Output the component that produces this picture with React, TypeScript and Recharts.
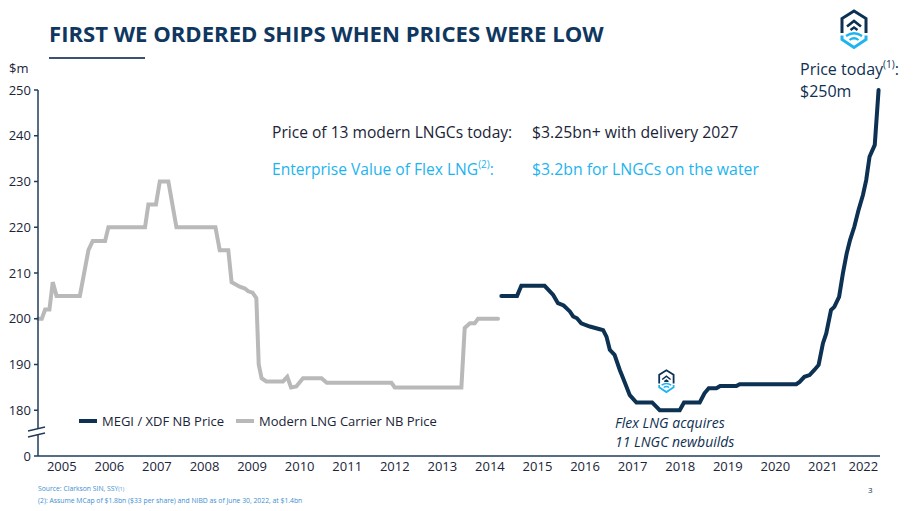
import { LineChart, Line, XAxis, YAxis } from "recharts";

const NAVY = "#0c3152";
const GRAY = "#b9b9b9";
const CYAN = "#1db4ef";
const INK = "#1b2438";
const AXIS = "#1f3b5c";

// Modern LNG Carrier NB Price ($m), x = decimal year
const modernYears = [
  2005.0, 2005.08, 2005.15, 2005.24, 2005.31, 2005.39, 2005.88, 2006.06, 2006.15, 2006.41,
  2006.48, 2007.25, 2007.32, 2007.48, 2007.56, 2007.74, 2007.91, 2008.73, 2008.82, 2009.0,
  2009.07, 2009.14, 2009.24, 2009.35, 2009.42, 2009.51, 2009.59, 2009.64, 2009.7, 2009.8,
  2010.15, 2010.24, 2010.32, 2010.43, 2010.57, 2010.96, 2011.07, 2012.43, 2012.5, 2013.9,
  2013.97, 2014.08, 2014.18, 2014.25, 2014.67,
];
const modernPrices = [
  200, 200, 202, 202, 208, 205, 205, 215, 217, 217,
  220, 220, 225, 225, 230, 230, 220, 220, 215, 215,
  208, 207.6, 207, 206.6, 206, 205.7, 204.5, 190, 187, 186.3,
  186.3, 187.3, 185, 185.2, 187, 187, 186, 186, 185, 185,
  198, 199, 199, 200, 200,
];

// MEGI / XDF NB Price ($m)
const megiYears = [
  2014.74, 2015.07, 2015.16, 2015.65, 2015.83, 2015.93, 2016.05, 2016.18, 2016.25, 2016.33,
  2016.42, 2016.6, 2016.81, 2016.88, 2016.95, 2017.02, 2017.12, 2017.23, 2017.3, 2017.44,
  2017.58, 2017.91, 2018.07, 2018.49, 2018.58, 2018.91, 2019.01, 2019.1, 2019.26, 2019.34,
  2019.68, 2019.75, 2020.94, 2021.01, 2021.11, 2021.22, 2021.32, 2021.41, 2021.5, 2021.57,
  2021.67, 2021.74, 2021.84, 2021.92, 2022.0, 2022.07, 2022.16, 2022.25, 2022.34, 2022.41,
  2022.48, 2022.59, 2022.67,
];
const megiPrices = [
  205, 205, 207.2, 207.2, 205.2, 203.4, 202.9, 201.6, 200.5, 200.1,
  199, 198.3, 197.7, 197.5, 196.1, 193.2, 192.1, 188.8, 187, 183.3,
  181.7, 181.7, 180, 180, 181.7, 181.7, 183.7, 184.8, 184.8, 185.3,
  185.3, 185.7, 185.7, 186.2, 187.3, 187.7, 188.8, 189.9, 194.6, 196.8,
  201.9, 202.6, 204.8, 209.9, 214.3, 217.2, 220.1, 223.8, 227, 230.3,
  235.4, 238, 250,
];

const yearLabels = [
  2005, 2006, 2007, 2008, 2009, 2010, 2011, 2012, 2013, 2014, 2015, 2016, 2017, 2018, 2019, 2020,
  2021, 2022,
];
const priceTicks = [170, 180, 190, 200, 210, 220, 230, 240, 250];
const X_START = 2005;
const X_END = 2022.7;

const modernData = modernYears.map((t, i) => ({ t, modern: modernPrices[i] }));
const megiData = megiYears.map((t, i) => ({ t, megi: megiPrices[i] }));
// year labels sit in the middle of each year (the last one in the middle of the partial year)
const yearTicks = yearLabels.map((y) => Math.min(y + 0.5, (y + X_END) / 2));

const legendItems = [
  { label: "MEGI / XDF NB Price", color: NAVY },
  { label: "Modern LNG Carrier NB Price", color: GRAY },
];

function ChartLegend() {
  return (
    <div
      style={{
        position: "absolute",
        left: 79,
        top: 412,
        display: "flex",
        alignItems: "center",
        fontSize: 13,
        lineHeight: "18px",
        color: INK,
      }}
    >
      {legendItems.map((d) => (
        <span key={d.label} style={{ display: "flex", alignItems: "center", marginRight: 12 }}>
          <span style={{ width: 18, height: 4, background: d.color, marginRight: 5 }} />
          {d.label}
        </span>
      ))}
    </div>
  );
}

function Logo({ x, y, s }: { x: number; y: number; s: number }) {
  return (
    <g transform={`translate(${x},${y}) scale(${s})`} fill="none" strokeLinejoin="miter">
      <path d="M2,24 L2,9.5 L14,2 L26,9.5 L26,24" stroke={NAVY} strokeWidth={3} />
      <path d="M7,17.5 L14,12 L21,17.5" stroke={NAVY} strokeWidth={2.6} />
      <path d="M10.5,21 L14,18.5 L17.5,21" stroke={NAVY} strokeWidth={2.4} />
      <path d="M2,26.5 L2,30.5 L14,38.5 L26,30.5 L26,26.5" stroke={CYAN} strokeWidth={3} />
      <path d="M6,27 Q14,21.5 22,27" stroke={CYAN} strokeWidth={2.4} />
      <path d="M9.5,31 Q14,27.5 18.5,31" stroke={CYAN} strokeWidth={2.2} />
    </g>
  );
}

export default function App() {
  return (
    <div
      style={{
        position: "absolute",
        left: 0,
        top: 0,
        width: 918,
        height: 511,
        background: "#fff",
        fontFamily: "'Open Sans', sans-serif",
      }}
    >
      <LineChart
        width={918}
        height={511}
        margin={{ top: 90, right: 38, bottom: 25, left: 8 }}
      >
        <XAxis
          type="number"
          dataKey="t"
          domain={[X_START, X_END]}
          ticks={yearTicks}
          tickFormatter={(v: number) => String(Math.floor(v))}
          interval={0}
          height={30}
          tickLine={false}
          tickSize={4}
          tickMargin={2}
          axisLine={{ stroke: AXIS, strokeWidth: 1.5 }}
          tick={{ fontSize: 13, fill: INK }}
          allowDuplicatedCategory={false}
        />
        <YAxis
          type="number"
          domain={[170, 250]}
          ticks={priceTicks}
          tickFormatter={(v: number) => (v === 170 ? "0" : String(v))}
          interval={0}
          width={30}
          tickSize={4}
          tickMargin={3}
          axisLine={{ stroke: AXIS, strokeWidth: 1.5 }}
          tickLine={{ stroke: AXIS, strokeWidth: 1.5 }}
          tick={{ fontSize: 13, fill: INK }}
        />
        <Line
          data={modernData}
          dataKey="modern"
          name="Modern LNG Carrier NB Price"
          type="linear"
          stroke={GRAY}
          strokeWidth={4}
          strokeLinecap="round"
          dot={false}
          activeDot={false}
          isAnimationActive={false}
        />
        <Line
          data={megiData}
          dataKey="megi"
          name="MEGI / XDF NB Price"
          type="linear"
          stroke={NAVY}
          strokeWidth={4}
          strokeLinecap="round"
          dot={false}
          activeDot={false}
          isAnimationActive={false}
        />
      </LineChart>

      <ChartLegend />

      <svg
        width={918}
        height={511}
        style={{ position: "absolute", left: 0, top: 0, pointerEvents: "none" }}
        fontFamily="'Open Sans', sans-serif"
      >
        <text x={49} y={42} fontSize={22.1} fontWeight={700} fill="#0f3760">
          FIRST WE ORDERED SHIPS WHEN PRICES WERE LOW
        </text>
        <line x1={49} y1={58} x2={145} y2={58} stroke="#3c5270" strokeWidth={2} />
        <text x={9} y={73} fontSize={13} fill={INK}>
          $m
        </text>

        {/* axis break */}
        <rect x={34} y={429} width={8} height={6} fill="#fff" />
        <line x1={28} y1={431} x2={45} y2={427} stroke={AXIS} strokeWidth={1.3} />
        <line x1={28} y1={437} x2={45} y2={433} stroke={AXIS} strokeWidth={1.3} />

        <text x={272} y={138} fontSize={15.6} fill={INK}>
          Price of 13 modern LNGCs today:
        </text>
        <text x={532} y={138} fontSize={15.8} fill={INK}>
          $3.25bn+ with delivery 2027
        </text>
        <text x={272} y={175} fontSize={15.6} fill={CYAN}>
          Enterprise Value of Flex LNG
          <tspan fontSize={10} dy={-7}>(2)</tspan>
          <tspan dy={7}>:</tspan>
        </text>
        <text x={532} y={175} fontSize={15.8} fill={CYAN}>
          $3.2bn for LNGCs on the water
        </text>

        <text x={800} y={75} fontSize={16} fill="#0f2f52">
          Price today<tspan fontSize={10} dy={-7}>(1)</tspan>
          <tspan dy={7}>:</tspan>
        </text>
        <text x={800} y={97} fontSize={16} fill="#0f2f52">
          $250m
        </text>

        <text x={615} y={428} fontSize={14} fontStyle="italic" fill="#0f2f52">
          Flex LNG acquires
        </text>
        <text x={615} y={447} fontSize={14} fontStyle="italic" fill="#0f2f52">
          11 LNGC newbuilds
        </text>

        <text x={38} y={491} fontSize={6.8} fill="#3d8fcf">
          Source: Clarkson SIN, SSY<tspan fontSize={5}>(1)</tspan>
        </text>
        <text x={38} y={503} fontSize={6.8} fill="#3d8fcf">
          (2): Assume MCap of $1.8bn ($33 per share) and NIBD as of June 30, 2022, at $1.4bn
        </text>
        <text x={868} y={493} fontSize={8} fill="#0f2f52">
          3
        </text>

        <Logo x={840} y={9} s={1} />
        <Logo x={658} y={369} s={0.6} />
      </svg>
    </div>
  );
}
